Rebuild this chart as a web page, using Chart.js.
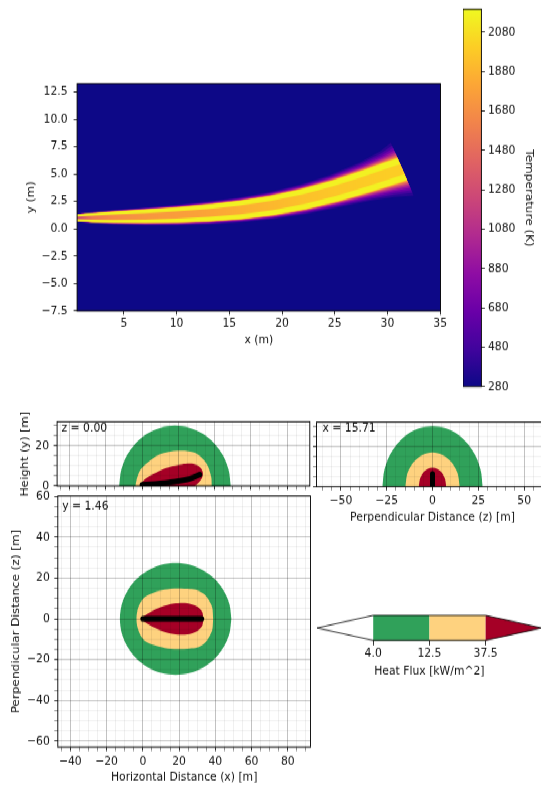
<!DOCTYPE html>
<html>
<head>
<meta charset="utf-8">
<script src="https://cdn.jsdelivr.net/npm/chart.js@4.4.0/dist/chart.umd.min.js"></script>
<style>
  html, body { margin: 0; padding: 0; background: #fff; overflow: hidden; }
  #page { position: absolute; left: 0; top: 0; width: 541px; transform-origin: 0 0; overflow: hidden; }
  #page canvas { position: absolute; }
</style>
</head>
<body>
<div id="page"></div>
<script>
// the reference picture is stretched vertically, so everything is laid out
// in unstretched pixels and the page is scaled back up at the end
const S = 1.115;
const F = {family: "'DejaVu Sans', sans-serif", size: 10.8};
const INK = '#111';

// ---------- top: temperature field, x / y in m ----------
const plumeX     = [0.3, 2, 4, 7, 10, 13, 16, 19, 22, 25, 28, 30, 31.4];
const plumeY     = [1.0, 1.02, 1.06, 1.14, 1.26, 1.45, 1.72, 2.12, 2.7, 3.45, 4.35, 5.0, 5.45];
const plumeCore  = [0.28, 0.4, 0.5, 0.6, 0.68, 0.75, 0.81, 0.86, 0.91, 0.96, 1.01, 1.05, 1.07];
const plumeHalo  = [0.33, 0.5, 0.65, 0.8, 0.93, 1.04, 1.14, 1.25, 1.38, 1.55, 1.85, 2.2, 2.65];
const plumeInner = [0.1, 0.18, 0.24, 0.29, 0.33, 0.36, 0.39, 0.42, 0.44, 0.46, 0.48, 0.49, 0.5];
const innerTemp  = [1150, 1550, 1660, 1720, 1760, 1800, 1850, 1900, 1940, 1970, 1990, 2000, 2000];
const plumeCut   = [-0.41, 0.91];   // direction of the cut at the end of the plume
const edgeTemp   = [380, 520, 680, 850, 1020, 1200, 1380, 1560, 1740, 1920, 2080, 2160];
const edgeSpread = [1, 0.82, 0.66, 0.52, 0.4, 0.3, 0.22, 0.15, 0.09, 0.05, 0.02, 0];
const tempMin = 280, tempMax = 2196;
const tempTicks = [280, 480, 680, 880, 1080, 1280, 1480, 1680, 1880, 2080];
const fieldXTicks = [5, 10, 15, 20, 25, 30, 35];
const fieldYTicks = [-7.5, -5, -2.5, 0, 2.5, 5, 7.5, 10, 12.5];

// ---------- bottom: heat flux zones ----------
const zoneColors = ['#30a15a', '#fed27f', '#a50026'];
const fluxLevels = [4.0, 12.5, 37.5];

// plan view, y = 1.46 (upper half, mirrored about z = 0)
const planGreenX  = [48.85, 47.8, 44.7, 39.8, 33.5, 26.1, 18.1, 10.1, 2.7, -3.6, -8.5, -11.6, -12.65];
const planGreenZ  = [0, 7.1, 13.7, 19.4, 23.7, 26.5, 27.4, 26.5, 23.7, 19.4, 13.7, 7.1, 0];
const planYellowX = [38.8, 38.3, 36.5, 34, 30, 26, 19, 12, 6.1, 1.5, -1.3, -3.0, -3.5];
const planYellowZ = [0, 5.5, 9.0, 12.0, 14.1, 14.6, 14.9, 14.3, 12.9, 11.0, 8.0, 4.0, 0];
const planRedX    = [33.3, 32.8, 30.0, 24.5, 17.1, 9.8, 4.2, 1.0, -0.9];
const planRedZ    = [0, 3.3, 6.0, 7.7, 7.5, 5.7, 3.3, 1.5, 0];
const planFlameX  = [0, 32.5];
const planFlameZ  = [0, 0];

// side view, z = 0.00
const sideGreenX  = [48.85, 47.8, 44.7, 39.8, 33.5, 26.1, 18.1, 10.1, 2.7, -3.6, -8.5, -11.6, -12.65];
const sideGreenY  = [0, 7.7, 15.0, 21.1, 25.9, 28.9, 29.9, 28.9, 25.9, 21.1, 15.0, 7.7, 0];
const sideYellowX = [38.4, 38.1, 35.5, 29.1, 19.9, 9.7, 2.4, -1.0, -2.8, -3.7];
const sideYellowY = [0, 4.6, 11.2, 16.5, 17.5, 15.7, 11.2, 8.0, 4.0, 0];
const sideRedX    = [29, 31, 33, 33.5, 32.5, 30, 26.5, 22, 17, 12, 8, 4, 0.5, -1.3];
const sideRedY    = [0, 1.5, 4, 6.5, 8.8, 10.5, 11.1, 10.8, 9.9, 8.5, 6.8, 5, 2.5, 0];
const sideFlameX  = [0, 5, 10, 15, 20, 25, 28, 31.8];
const sideFlameY  = [0.6, 0.9, 1.3, 1.8, 2.4, 3.3, 4.2, 5.7];

// end view, x = 15.71
const endGreenZ  = [27.3, 26.4, 23.6, 19.3, 13.7, 7.1, 0, -7.1, -13.7, -19.3, -23.6, -26.4, -27.3];
const endGreenY  = [0, 7.7, 15.0, 21.1, 25.9, 28.9, 29.9, 28.9, 25.9, 21.1, 15.0, 7.7, 0];
const endYellowZ = [14.8, 13.7, 10.5, 5.65, 0, -5.65, -10.5, -13.7, -14.8];
const endYellowY = [0, 6.5, 11.9, 15.6, 16.9, 15.6, 11.9, 6.5, 0];
const endRedZ    = [7.45, 6.9, 5.3, 2.85, 0, -2.85, -5.3, -6.9, -7.45];
const endRedY    = [0, 3.55, 6.6, 8.6, 9.3, 8.6, 6.6, 3.55, 0];
const endFlameZ  = [0, 0];
const endFlameY  = [0, 6.3];

// ---------- helpers ----------
const plasmaStops = ['#0d0887', '#41049d', '#6a00a8', '#8f0da4', '#b12a90', '#cc4778',
                     '#e16462', '#f2844b', '#fca636', '#fcce25', '#f0f921'];
function rgb(h) { return [1, 3, 5].map(k => parseInt(h.slice(k, k + 2), 16)); }
function plasma(T) {
  const t = Math.min(1, Math.max(0, (T - tempMin) / (tempMax - tempMin))) * 10;
  const i = Math.min(9, Math.floor(t)), f = t - i;
  const a = rgb(plasmaStops[i]), b = rgb(plasmaStops[i + 1]);
  return 'rgb(' + a.map((v, k) => Math.round(v + (b[k] - v) * f)).join(',') + ')';
}
function steps(a, b, d) { const out = []; for (let v = a; v <= b + 1e-9; v += d) out.push(v); return out; }
function pts(xs, ys) { return xs.map((x, i) => ({x: x, y: ys[i]})); }
function mirror(xs, zs) {
  return pts(xs, zs).concat(pts(xs, zs.map(z => -z)).reverse().slice(1));
}
function minus(v) { return String(v).replace('-', '\u2212'); }

// plume outline for a given half width, offset along the local normal
function band(half) {
  const n = plumeX.length;
  const nrm = plumeX.map((x, i) => {
    if (i === n - 1) return plumeCut;
    const a = Math.max(i - 1, 0), b = Math.min(i + 1, n - 1);
    const dx = plumeX[b] - plumeX[a], dy = plumeY[b] - plumeY[a];
    const len = Math.hypot(dx, dy);
    return [-dy / len, dx / len];
  });
  const up = plumeX.map((x, i) => ({x: x + nrm[i][0] * half[i], y: plumeY[i] + nrm[i][1] * half[i]}));
  const lo = plumeX.map((x, i) => ({x: x - nrm[i][0] * half[i], y: plumeY[i] - nrm[i][1] * half[i]}));
  return up.concat(lo.reverse());
}

function shape(data, color, tension) {
  return {data: data, fill: 'shape', backgroundColor: color, borderWidth: 0,
          pointRadius: 0, tension: tension || 0};
}
function flame(data) {
  return {data: data, fill: false, borderColor: '#000', borderWidth: 5, borderCapStyle: 'round',
          pointRadius: 0, tension: 0.3, clip: 0};
}
// later entries paint over earlier ones
function stack(list) { return list.map((d, i) => Object.assign(d, {order: list.length - i})); }

const page = document.getElementById('page');
page.style.height = (786 / S) + 'px';
page.style.transform = 'scaleY(' + S + ')';

function mount(box) {
  const cv = document.createElement('canvas');
  const h = Math.round(box.h / S);
  cv.width = box.w; cv.height = h;
  cv.style.left = box.x + 'px'; cv.style.top = (box.y / S) + 'px';
  cv.style.width = box.w + 'px'; cv.style.height = h + 'px';
  page.appendChild(cv);
  return cv;
}
function frameOf(box, area) {
  const h = Math.round(box.h / S);
  return {top: (area.t - box.y) / S, bottom: h - (area.b - box.y) / S,
          left: area.l - box.x, right: box.x + box.w - area.r};
}

const MAJOR = 'rgba(0,0,0,0.3)', MINOR = 'rgba(0,0,0,0.1)';
function axis(o) {
  const major = v => (o.major ? o.major(v) : true);
  const isMaj = c => (c.tick ? major(c.tick.value) : true);
  return {
    type: 'linear', position: o.pos, min: o.min, max: o.max, bounds: 'data',
    afterBuildTicks: s => { s.ticks = o.ticks.map(v => ({value: v})); },
    afterFit: s => {
      if (s.isHorizontal()) s.height = o.size; else s.width = o.size;
      s.paddingLeft = s.paddingRight = s.paddingTop = s.paddingBottom = 0;
    },
    ticks: {autoSkip: false, maxRotation: 0, padding: o.pad || 0, font: F, color: INK,
            callback: v => (o.labels && major(v) ? (o.fmt ? o.fmt(v) : minus(v)) : '')},
    grid: {drawOnChartArea: !!o.grid, z: 1, tickLength: o.tick || 3.5,
           color: c => (isMaj(c) ? MAJOR : MINOR),
           lineWidth: c => (isMaj(c) ? 0.8 : 0.6),
           tickColor: c => (isMaj(c) ? '#000' : 'rgba(0,0,0,0.55)'), tickWidth: 0.8},
    border: {display: false},
    title: o.title ? {display: true, text: o.title, font: F, color: INK, padding: 0} : {display: false}
  };
}

const outline = {
  id: 'outline',
  afterDraw(c) {
    const a = c.chartArea, ctx = c.ctx;
    ctx.save(); ctx.strokeStyle = '#000'; ctx.lineWidth = 0.9;
    ctx.strokeRect(a.left, a.top, a.right - a.left, a.bottom - a.top); ctx.restore();
  }
};
const fieldBg = {
  id: 'fieldBg',
  beforeDatasetsDraw(c) {
    const a = c.chartArea, ctx = c.ctx;
    ctx.save(); ctx.fillStyle = plasma(tempMin);
    ctx.fillRect(a.left, a.top, a.right - a.left, a.bottom - a.top); ctx.restore();
  }
};
function note(text, dx, dy) {
  return {
    id: 'note',
    afterDraw(c) {
      const a = c.chartArea, ctx = c.ctx;
      ctx.save(); ctx.font = F.size + 'px ' + F.family; ctx.fillStyle = INK;
      ctx.textBaseline = 'middle'; ctx.fillText(text, a.left + dx, a.top + dy); ctx.restore();
    }
  };
}
function base(pad) {
  return {
    responsive: false, devicePixelRatio: 1, animation: false, events: [],
    layout: {padding: pad},
    plugins: {legend: {display: false}, tooltip: {enabled: false}}
  };
}

Chart.defaults.font.family = F.family;
Chart.defaults.color = INK;

// ---------- temperature field ----------
const boxA = {x: 25.2, y: 70, w: 425, h: 277.2};
const frA = frameOf(boxA, {l: 77.3, r: 440.7, t: 83.3, b: 310.7});
const plumeSets = edgeTemp.map((T, k) => shape(
  band(plumeCore.map((c, i) => c + edgeSpread[k] * (plumeHalo[i] - c))), plasma(T)));
plumeSets.push(shape(band(plumeInner), c => {
  const ch = c.chart, xs = ch.scales.x;
  if (!ch.chartArea || !xs) return plasma(1900);
  const x0 = plumeX[0], x1 = plumeX[plumeX.length - 1];
  const g = ch.ctx.createLinearGradient(xs.getPixelForValue(x0), 0, xs.getPixelForValue(x1), 0);
  plumeX.forEach((x, i) => g.addColorStop((x - x0) / (x1 - x0), plasma(innerTemp[i])));
  return g;
}));
const optA = base({top: frA.top, right: frA.right, left: 0, bottom: 0});
optA.scales = {
  x: axis({pos: 'bottom', min: 0.57, max: 35.03, ticks: fieldXTicks, size: frA.bottom, labels: true,
           pad: 1.3, title: 'x (m)'}),
  y: axis({pos: 'left', min: -7.5, max: 13.27, ticks: fieldYTicks, size: frA.left, labels: true,
           pad: 6, fmt: v => minus(v.toFixed(1)), title: 'y (m)'})
};
new Chart(mount(boxA), {type: 'line', data: {datasets: stack(plumeSets)}, options: optA,
                        plugins: [fieldBg, outline]});

// ---------- temperature colorbar ----------
const boxB = {x: 463.3, y: 0, w: 72, h: 400};
const frB = frameOf(boxB, {l: 463.3, r: 481.7, t: 9.3, b: 386.7});
const optB = base({top: frB.top, bottom: frB.bottom, left: 0, right: 0});
optB.scales = {
  x: {display: false},
  y: axis({pos: 'right', min: tempMin, max: tempMax, ticks: tempTicks, size: frB.right, labels: true,
           pad: 3.1, title: 'Temperature (K)'})
};
new Chart(mount(boxB), {
  type: 'bar',
  data: {labels: [''], datasets: [{
    data: [[tempMin, tempMax]], barPercentage: 1, categoryPercentage: 1, borderWidth: 0,
    backgroundColor: c => {
      const ch = c.chart, ys = ch.scales.y;
      if (!ch.chartArea || !ys) return plasma(tempMax);
      const g = ch.ctx.createLinearGradient(0, ys.getPixelForValue(tempMin), 0, ys.getPixelForValue(tempMax));
      plasmaStops.forEach((col, k) => g.addColorStop(k / 10, col));
      return g;
    }
  }]},
  options: optB,
  plugins: [outline]
});

// ---------- side view, z = 0.00 ----------
const gridX = steps(-45, 90, 5), gridH = steps(0, 30, 5);
const by20 = v => Math.abs(v % 20) < 1e-9;
const by25 = v => Math.abs(v % 25) < 1e-9;
const boxC = {x: 19.2, y: 398, w: 293, h: 106};
const frC = frameOf(boxC, {l: 57.3, r: 310, t: 421.7, b: 486});
const optC = base({top: frC.top, right: frC.right, left: 0, bottom: 0});
optC.scales = {
  x: axis({pos: 'bottom', min: -46.9, max: 92.5, ticks: gridX, major: by20, size: frC.bottom, grid: true}),
  y: axis({pos: 'left', min: 0, max: 31.9, ticks: gridH, major: by20, size: frC.left, labels: true,
           pad: 4.5, grid: true, title: 'Height (y) [m]'})
};
new Chart(mount(boxC), {
  type: 'line',
  data: {datasets: stack([
    shape(pts(sideGreenX, sideGreenY), zoneColors[0], 0.3),
    shape(pts(sideYellowX, sideYellowY), zoneColors[1], 0.3),
    shape(pts(sideRedX, sideRedY), zoneColors[2], 0.3),
    flame(pts(sideFlameX, sideFlameY))
  ])},
  options: optC,
  plugins: [outline, note('z = 0.00', 4.4, 5.9)]
});

// ---------- end view, x = 15.71 ----------
const gridZ = steps(-60, 60, 5);
const boxD = {x: 312.2, y: 412, w: 240, h: 112.5};
const frD = frameOf(boxD, {l: 316.7, r: 548.7, t: 421.7, b: 486});
const optD = base({top: frD.top, right: frD.right, left: 0, bottom: 0});
optD.scales = {
  x: axis({pos: 'bottom', min: -63.3, max: 63.3, ticks: gridZ, major: by25, size: frD.bottom, labels: true,
           pad: 2.6, grid: true, title: 'Perpendicular Distance (z) [m]'}),
  y: axis({pos: 'left', min: 0, max: 31.9, ticks: gridH, major: by20, size: frD.left, grid: true})
};
new Chart(mount(boxD), {
  type: 'line',
  data: {datasets: stack([
    shape(pts(endGreenZ, endGreenY), zoneColors[0], 0.3),
    shape(pts(endYellowZ, endYellowY), zoneColors[1], 0.3),
    shape(pts(endRedZ, endRedY), zoneColors[2], 0.3),
    flame(pts(endFlameZ, endFlameY))
  ])},
  options: optD,
  plugins: [outline, note('x = 15.71', 6, 5.9)]
});

// ---------- plan view, y = 1.46 ----------
const gridP = steps(-60, 60, 5);
const boxE = {x: 9.5, y: 489, w: 303, h: 295.5};
const frE = frameOf(boxE, {l: 57.3, r: 310, t: 495.3, b: 746.7});
const optE = base({top: frE.top, right: frE.right, left: 0, bottom: 0});
optE.scales = {
  x: axis({pos: 'bottom', min: -46.9, max: 92.5, ticks: gridX, major: by20, size: frE.bottom, labels: true,
           pad: 2.6, grid: true, title: 'Horizontal Distance (x) [m]'}),
  y: axis({pos: 'left', min: -62.9, max: 60.3, ticks: gridP, major: by20, size: frE.left, labels: true,
           pad: 4.5, grid: true, title: 'Perpendicular Distance (z) [m]'})
};
new Chart(mount(boxE), {
  type: 'line',
  data: {datasets: stack([
    shape(mirror(planGreenX, planGreenZ), zoneColors[0], 0.3),
    shape(mirror(planYellowX, planYellowZ), zoneColors[1], 0.3),
    shape(mirror(planRedX, planRedZ), zoneColors[2], 0.3),
    flame(pts(planFlameX, planFlameZ))
  ])},
  options: optE,
  plugins: [outline, note('y = 1.46', 4.4, 9.6)]
});

// ---------- heat flux colorbar ----------
const nLev = fluxLevels.length;
const fluxColors = ['#ffffff'].concat(zoneColors);
const boxF = {x: 317.3, y: 605, w: 230, h: 73.2};
const frF = frameOf(boxF, {l: 317.3, r: 542.1, t: 615, b: 640});
const barSets = [shape(pts([0, -1, 0], [0, 0.5, 1]), fluxColors[0])];
for (let k = 0; k < nLev - 1; k++) {
  barSets.push(shape(pts([k, k + 1, k + 1, k], [0, 0, 1, 1]), fluxColors[k + 1]));
}
barSets.push(shape(pts([nLev - 1, nLev, nLev - 1], [0, 0.5, 1]), fluxColors[nLev]));
barSets.push({data: pts([-1, 0, nLev - 1, nLev, nLev - 1, 0, -1], [0.5, 1, 1, 0.5, 0, 0, 0.5]),
              fill: false, borderColor: '#000', borderWidth: 0.8, pointRadius: 0, tension: 0, clip: false});
const optF = base({top: frF.top, right: frF.right, left: 0, bottom: 0});
optF.scales = {
  x: axis({pos: 'bottom', min: -1, max: nLev, ticks: fluxLevels.map((v, i) => i), size: frF.bottom,
           labels: true, pad: 0.4, tick: 4.5, fmt: i => fluxLevels[i].toFixed(1), title: 'Heat Flux [kW/m^2]'}),
  y: {type: 'linear', display: false, min: 0, max: 1}
};
new Chart(mount(boxF), {type: 'line', data: {datasets: stack(barSets)}, options: optF});
</script>
</body>
</html>
